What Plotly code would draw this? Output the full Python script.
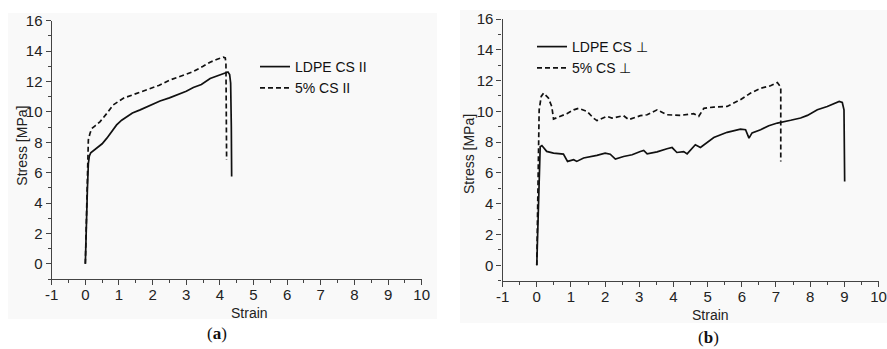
import plotly.graph_objects as go

# ---------------- data ----------------
# Panel (a): parallel direction
a_ldpe_x = [0.0, 0.02, 0.06, 0.09, 0.12, 0.16, 0.22, 0.34, 0.5, 0.64, 0.8, 0.93, 1.08, 1.23, 1.4, 1.63,
            1.9, 2.22, 2.5, 2.72, 3.0, 3.21, 3.45, 3.71, 3.95, 4.16, 4.24, 4.29, 4.32, 4.34, 4.35]
a_ldpe_y = [0.0, 2.0, 4.8, 6.6, 7.1, 7.3, 7.4, 7.6, 7.9, 8.27, 8.75, 9.14, 9.45, 9.69, 9.92, 10.13,
            10.4, 10.72, 10.92, 11.1, 11.35, 11.6, 11.8, 12.2, 12.4, 12.6, 12.62, 12.45, 11.9, 9.0, 5.74]
a_cs_x = [0.0, 0.04, 0.07, 0.09, 0.14, 0.19, 0.3, 0.44, 0.64, 0.83, 1.13, 1.5, 1.93, 2.2, 2.52, 2.9,
          3.21, 3.5, 3.71, 3.9, 4.1, 4.16, 4.18, 4.19, 4.2]
a_cs_y = [0.0, 3.5, 6.8, 8.16, 8.6, 8.9, 9.1, 9.36, 9.9, 10.46, 10.9, 11.2, 11.5, 11.75, 12.1, 12.4,
          12.65, 13.0, 13.27, 13.45, 13.6, 13.55, 13.2, 10.0, 6.84]

# Panel (b): perpendicular direction
b_ldpe_x = [0.0, 0.05, 0.1, 0.15, 0.29, 0.49, 0.78, 0.9, 1.08, 1.17, 1.37, 1.76, 2.0, 2.15, 2.3, 2.54,
            2.79, 3.03, 3.13, 3.23, 3.52, 3.81, 3.96, 4.1, 4.3, 4.4, 4.55, 4.64, 4.79, 4.99, 5.18,
            5.57, 5.96, 6.11, 6.21, 6.3, 6.55, 6.79, 7.04, 7.43, 7.72, 7.92, 8.21, 8.5, 8.85, 8.94,
            8.99, 9.01]
b_ldpe_y = [0.0, 4.0, 7.7, 7.78, 7.4, 7.29, 7.22, 6.75, 6.86, 6.75, 6.97, 7.14, 7.29, 7.22, 6.9, 7.07,
            7.18, 7.39, 7.46, 7.24, 7.37, 7.57, 7.65, 7.33, 7.39, 7.24, 7.6, 7.83, 7.65, 7.98, 8.3,
            8.64, 8.85, 8.81, 8.26, 8.6, 8.81, 9.07, 9.24, 9.42, 9.57, 9.74, 10.11, 10.32, 10.65, 10.58,
            10.1, 5.45]
b_cs_x = [0.0, 0.04, 0.07, 0.13, 0.2, 0.34, 0.44, 0.49, 0.68, 0.88, 1.08, 1.22, 1.47, 1.66, 1.76, 2.05,
          2.2, 2.54, 2.69, 3.03, 3.23, 3.52, 3.81, 4.2, 4.59, 4.74, 4.89, 5.18, 5.57, 5.96, 6.26,
          6.55, 6.84, 7.04, 7.14, 7.14]
b_cs_y = [0.0, 5.0, 10.1, 10.97, 11.19, 10.87, 10.3, 9.5, 9.68, 9.85, 10.1, 10.2, 10.0, 9.56, 9.4, 9.68,
          9.56, 9.72, 9.46, 9.72, 9.78, 10.1, 9.78, 9.74, 9.85, 9.68, 10.2, 10.28, 10.32, 10.76, 11.19,
          11.5, 11.66, 11.87, 11.57, 6.75]

x_ticks = list(range(-1, 11))
x_tick_labels = [str(v) for v in x_ticks]
y_ticks = list(range(0, 17, 2))
y_tick_labels = [str(v) for v in y_ticks]
x_range = [-1, 10]
y_range = [-1, 16]

# ---------------- figure ----------------
W, H = 887, 349
FONT = "Liberation Sans, Arial, sans-serif"
INK = "#111111"
AX = "#444444"


def px_x(p):
    return p / W


def px_y(p):
    return 1 - p / H


fig = go.Figure()

line_solid = dict(color=INK, width=1.7)
line_dash = dict(color=INK, width=1.7, dash="5px,3px")

fig.add_trace(go.Scatter(x=a_ldpe_x, y=a_ldpe_y, mode="lines", line=line_solid,
                         name="LDPE CS II", xaxis="x", yaxis="y", legend="legend"))
fig.add_trace(go.Scatter(x=a_cs_x, y=a_cs_y, mode="lines", line=line_dash,
                         name="5% CS II", xaxis="x", yaxis="y", legend="legend"))
fig.add_trace(go.Scatter(x=b_ldpe_x, y=b_ldpe_y, mode="lines", line=line_solid,
                         name="LDPE CS ⊥", xaxis="x2", yaxis="y2", legend="legend2"))
fig.add_trace(go.Scatter(x=b_cs_x, y=b_cs_y, mode="lines", line=line_dash,
                         name="5% CS ⊥", xaxis="x2", yaxis="y2", legend="legend2"))

dom_a_x = [px_x(51.7), px_x(421.7)]
dom_a_y = [px_y(279.0), px_y(20.7)]
dom_b_x = [px_x(502.6), px_x(878.5)]
dom_b_y = [px_y(280.7), px_y(19.0)]

tickfont = dict(family=FONT, size=15, color="#222222")


def xax(domain, anchor):
    return dict(domain=domain, anchor=anchor, range=x_range, tickvals=x_ticks, ticktext=x_tick_labels,
                ticks="outside", ticklen=5, tickwidth=1.2, tickcolor=AX, automargin=False,
                showline=True, linecolor=AX, linewidth=1.4, showgrid=False, zeroline=False,
                tickfont=tickfont, ticklabelstandoff=-3,
                minor=dict(dtick=0.5, tick0=-1, ticks="outside", ticklen=3, tickcolor=AX, tickwidth=1))


def yax(domain, anchor):
    return dict(domain=domain, anchor=anchor, range=y_range, tickvals=y_ticks, ticktext=y_tick_labels,
                ticks="outside", ticklen=5, tickwidth=1.2, tickcolor=AX, automargin=False,
                showline=True, linecolor=AX, linewidth=1.4, showgrid=False, zeroline=False,
                tickfont=tickfont,
                minor=dict(dtick=1, tick0=0, ticks="outside", ticklen=3, tickcolor=AX, tickwidth=1))


def xtop(over, domain, anchor):
    return dict(overlaying=over, side="top", domain=domain, anchor=anchor, range=x_range,
                tickvals=x_ticks, ticks="inside", ticklen=5, tickwidth=1.2, tickcolor=AX,
                showline=True, linecolor=AX, linewidth=1.4, showgrid=False, zeroline=False,
                showticklabels=False, automargin=False,
                minor=dict(dtick=0.5, tick0=-1, ticks="inside", ticklen=3, tickcolor=AX, tickwidth=1))


def yright(over, domain, anchor):
    return dict(overlaying=over, side="right", domain=domain, anchor=anchor, range=y_range,
                tickvals=y_ticks, ticks="inside", ticklen=5, tickwidth=1.2, tickcolor=AX,
                showline=True, linecolor=AX, linewidth=1.4, showgrid=False, zeroline=False,
                showticklabels=False, automargin=False,
                minor=dict(dtick=1, tick0=0, ticks="inside", ticklen=3, tickcolor=AX, tickwidth=1))


legend_font = dict(family=FONT, size=14, color="#111111")
title_font = dict(family=FONT, size=14, color="#222222")
label_font = dict(family="Liberation Serif, Times New Roman, serif", size=17, color="#111111")


def note(text, x, y, font, angle=0):
    return dict(text=text, xref="paper", yref="paper", x=px_x(x), y=px_y(y),
                xanchor="center", yanchor="middle", textangle=angle,
                showarrow=False, font=font)


fig.update_layout(
    width=W, height=H,
    margin=dict(l=0, r=0, t=0, b=0, autoexpand=False),
    paper_bgcolor="white",
    plot_bgcolor="#f9f9f9",
    xaxis=xax(dom_a_x, "y"),
    yaxis=yax(dom_a_y, "x"),
    xaxis2=xax(dom_b_x, "y2"),
    yaxis2=yax(dom_b_y, "x2"),
    xaxis3=xtop("x", dom_a_x, "y"),
    yaxis3=yright("y", dom_a_y, "x"),
    xaxis4=xtop("x2", dom_b_x, "y2"),
    yaxis4=yright("y2", dom_b_y, "x2"),
    legend=dict(x=px_x(255), y=px_y(51), xanchor="left", yanchor="top",
                bgcolor="rgba(0,0,0,0)", font=legend_font, itemwidth=30),
    legend2=dict(x=px_x(532), y=px_y(31), xanchor="left", yanchor="top",
                 bgcolor="rgba(0,0,0,0)", font=legend_font, itemwidth=30),
    shapes=[
        dict(type="rect", xref="paper", yref="paper", layer="below",
             x0=px_x(8), x1=px_x(437), y0=px_y(319), y1=px_y(13),
             fillcolor="#f9f9f9", line=dict(width=0)),
        dict(type="rect", xref="paper", yref="paper", layer="below",
             x0=px_x(460), x1=px_x(887), y0=px_y(323), y1=px_y(10),
             fillcolor="#f9f9f9", line=dict(width=0)),
    ],
    annotations=[
        note("Strain", 250, 313, title_font),
        note("Strain", 710, 315, title_font),
        note("Stress [MPa]", 21.7, 146, title_font, -90),
        note("Stress [MPa]", 469, 154, title_font, -90),
        note("(<b>a</b>)", 217, 333, label_font),
        note("(<b>b</b>)", 708, 337, label_font),
    ],
)

fig.write_html("out.html", config={"displayModeBar": False},
               post_script="document.body.style.margin='0';document.body.style.overflow='hidden';")
